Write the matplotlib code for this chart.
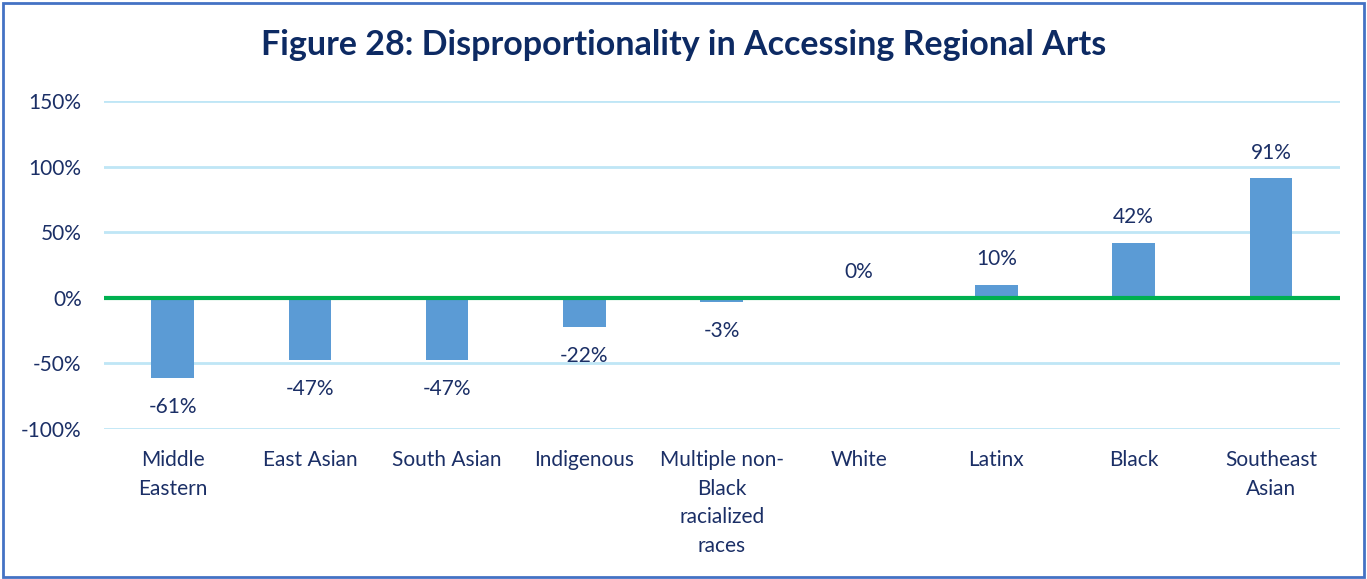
import numpy as np
import matplotlib
matplotlib.use("Agg")
import matplotlib.pyplot as plt
from matplotlib.patches import Rectangle

categories = ["Middle\nEastern", "East Asian", "South Asian", "Indigenous",
              "Multiple non-\nBlack\nracialized\nraces", "White", "Latinx",
              "Black", "Southeast\nAsian"]
values = [-61, -47, -47, -22, -3, 0, 10, 42, 91]
yticks = [-100, -50, 0, 50, 100, 150]

navy = "#1b2f66"
plt.rcParams['font.family'] = ['Lato', 'DejaVu Sans']

fig = plt.figure(figsize=(13.67, 5.79), dpi=100)
ax = fig.add_axes([0.076, 0.259, 0.904, 0.5664])

x = np.arange(len(categories))
vals = np.array(values) / 100.0
ax.bar(x, vals, width=0.31, color="#5b9bd5", zorder=2)
ax.axhline(0, color="#00b050", linewidth=3, zorder=3)

# labels above positive bars, below negative ones
for xi, v in zip(x, values):
    off = 18.5 if v >= 0 else -21
    ax.annotate(f"{v}%", (xi, v / 100.0), xytext=(0, off), textcoords="offset points",
                ha="center", va="center", fontsize=15, color=navy)

ax.set_xlim(-0.5, len(categories) - 0.5)
ax.set_ylim(-1.0, 1.5)
ax.set_yticks([t / 100.0 for t in yticks])
ax.set_yticklabels([f"{t}%" for t in yticks])
ax.yaxis.grid(True, color="#bfe6f6", linewidth=2, zorder=0)
ax.set_axisbelow(True)
ax.set_xticks(x)
ax.set_xticklabels(categories, linespacing=1.55)
ax.tick_params(axis="both", length=0, labelsize=15, labelcolor=navy)
ax.tick_params(axis="y", pad=16)
ax.tick_params(axis="x", pad=15)
for s in ax.spines.values():
    s.set_visible(False)

fig.text(0.5, 0.922, "Figure 28: Disproportionality in Accessing Regional Arts",
         ha="center", va="center", fontsize=24.5, fontweight="bold", color="#0d2a63")

fig.patches.append(Rectangle((0.002, 0.004), 0.996, 0.991, transform=fig.transFigure,
                             fill=False, edgecolor="#4472c4", linewidth=2))

fig.savefig("out.png", dpi=100)
